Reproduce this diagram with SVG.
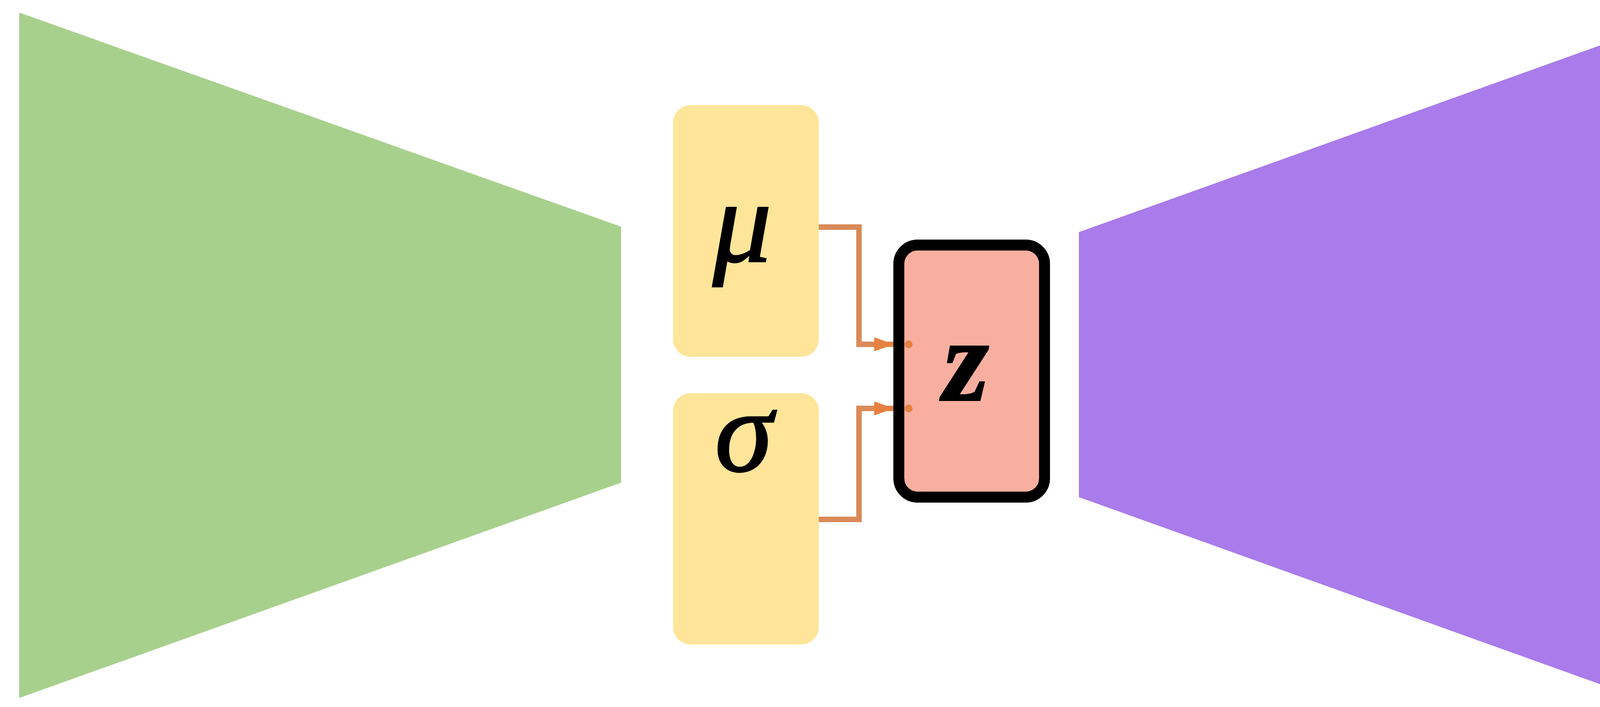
<svg xmlns="http://www.w3.org/2000/svg" width="4259" height="1809" viewBox="0 0 4259 1809">
  <defs>
    <style>
      .box { fill: #FEE599; }
      .lbl { font-family: "Liberation Serif", "DejaVu Serif", serif; font-style: italic; font-size: 300px; fill: #000; stroke: #000; stroke-width: 4; text-anchor: middle; }
      .conn { fill: none; stroke: #D98A58; stroke-width: 14; stroke-linejoin: miter; }
      .dot { fill: #E8803F; }
    </style>
    <marker id="arr" markerUnits="userSpaceOnUse" markerWidth="60" markerHeight="50" refX="50" refY="20" orient="auto">
      <path d="M0,2 L50,20 L0,38 Z" fill="#E8803F"/>
    </marker>
  </defs>
  <rect width="4259" height="1809" fill="#FFFFFF"/>

  <g id="encoder">
    <polygon points="49,32 1590,580 1590,1235 49,1786" fill="#A8D08D"/>
  </g>

  <g id="decoder">
    <polygon points="2762,594 4259,58 4259,1809 2762,1272" fill="#A97BEB"/>
  </g>

  <g id="mu">
    <rect class="box" x="1723" y="269" width="373" height="644" rx="45" ry="45"/>
    <text class="lbl" x="1900" y="669">μ</text>
  </g>

  <g id="sigma">
    <rect class="box" x="1723" y="1006" width="373" height="643" rx="45" ry="45"/>
    <text class="lbl" x="1904" y="1205">σ</text>
  </g>

  <g id="connectors">
    <path class="conn" d="M2096,581 H2199 V881 H2288" marker-end="url(#arr)"/>
    <path class="conn" d="M2096,1329 H2199 V1045 H2288" marker-end="url(#arr)"/>
  </g>

  <g id="z">
    <rect x="2301" y="627" width="373" height="645" rx="48" ry="48" fill="#F9AFA0" stroke="#000000" stroke-width="28"/>
    <circle class="dot" cx="2326" cy="881" r="10"/>
    <circle class="dot" cx="2326" cy="1045" r="10"/>
    <text class="lbl" x="2473" y="1024" font-weight="bold">z</text>
  </g>
</svg>
